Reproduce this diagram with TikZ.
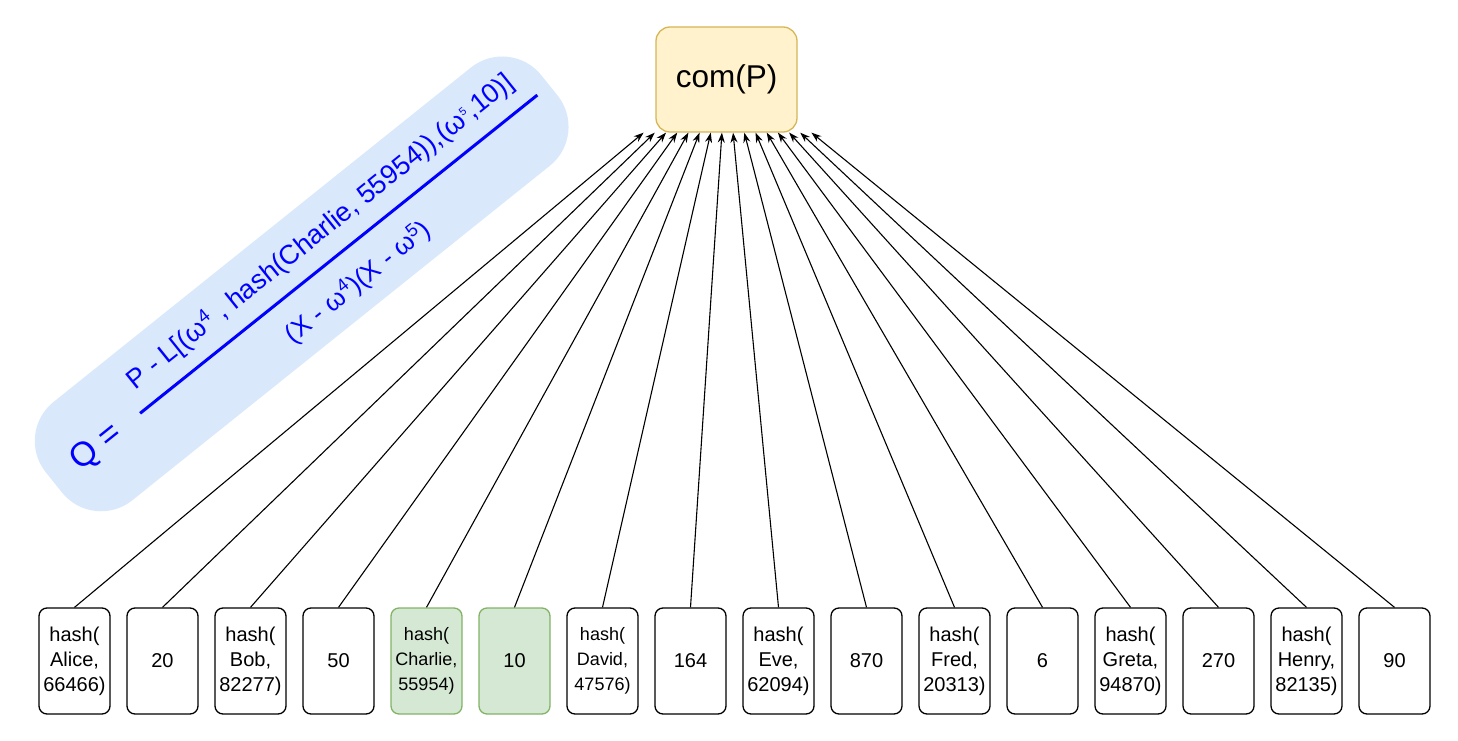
\documentclass[tikz,border=0pt]{standalone}
\usepackage{fontspec}
\setmainfont{Liberation Sans}
\usetikzlibrary{arrows.meta}
\definecolor{pillblue}{HTML}{DAE8FC}
\definecolor{greenfill}{HTML}{D5E8D4}
\definecolor{greenline}{HTML}{82B366}
\definecolor{yellowfill}{HTML}{FFF2CC}
\definecolor{yellowline}{HTML}{D6B656}
\definecolor{qblue}{HTML}{0000FF}
\begin{document}
\begin{tikzpicture}[x=1pt,y=1pt,
  leaf/.style={draw=black, line width=1.3pt, rounded corners=8pt, minimum width=71pt, minimum height=106pt, inner sep=0pt, align=center, font=\fontsize{20}{25}\selectfont},
  leafsmall/.style={leaf, font=\fontsize{18}{25}\selectfont},
  chosen/.style={fill=greenfill, draw=greenline},
  link/.style={draw=black, line width=1.1pt, -{Stealth[length=10pt,width=7pt]}},
  formula/.style={transform shape, text=qblue, inner sep=0pt}]
\useasboundingbox (0,0) rectangle (1458,740);

\node[draw=yellowline, fill=yellowfill, line width=1.3pt, rounded corners=14pt, minimum width=141pt, minimum height=105pt, font=\fontsize{31.5}{36}\selectfont] (com) at (726.5,660.5) {com(P)};
\coordinate (hub) at ([yshift=16pt]com.center);

\node[leaf] (b1) at (74.5,79) {hash(\\Alice,\\66466)};
\node[leaf] (b2) at (162.5,79) {20};
\node[leaf] (b3) at (250.5,79) {hash(\\Bob,\\82277)};
\node[leaf] (b4) at (338.5,79) {50};
\node[leafsmall, chosen] (b5) at (426.5,79) {hash(\\Charlie,\\55954)};
\node[leaf, chosen] (b6) at (514.5,79) {10};
\node[leafsmall] (b7) at (602.5,79) {hash(\\David,\\47576)};
\node[leaf] (b8) at (690.5,79) {164};
\node[leaf] (b9) at (778.5,79) {hash(\\Eve,\\62094)};
\node[leaf] (b10) at (866.5,79) {870};
\node[leaf] (b11) at (954.5,79) {hash(\\Fred,\\20313)};
\node[leaf] (b12) at (1042.5,79) {6};
\node[leaf] (b13) at (1130.5,79) {hash(\\Greta,\\94870)};
\node[leaf] (b14) at (1218.5,79) {270};
\node[leaf] (b15) at (1306.5,79) {hash(\\Henry,\\82135)};
\node[leaf] (b16) at (1394.5,79) {90};

\foreach \i in {1,...,16} {
  \draw[link] (b\i.north) -- (intersection of b\i.north--hub and com.south west--com.south east);
}

\begin{scope}[shift={(304,458)}, rotate=38.7]
  \node[transform shape, fill=pillblue, rounded corners=50pt, minimum width=635pt, minimum height=126pt, inner sep=0pt] (pill) at (-3,0) {};
  \node[formula, font=\fontsize{34}{38}\selectfont] (q) at (-265,0) {Q =};
  \coordinate (fl) at (-210,0);
  \coordinate (fr) at (299,0);
  \draw[qblue, line width=3pt] (fl) -- (fr);
  \node[formula, font=\fontsize{27}{30}\selectfont] (num) at (44,29) {P - L[(ω\textsuperscript{4} , hash(Charlie, 55954)),(ω\textsuperscript{\fontsize{11}{12}\selectfont 5},10)]};
  \node[formula, font=\fontsize{26}{30}\selectfont] (den) at (42,-34) {(X - ω\textsuperscript{4})(X - ω\textsuperscript{5})};
\end{scope}
\end{tikzpicture}
\end{document}
